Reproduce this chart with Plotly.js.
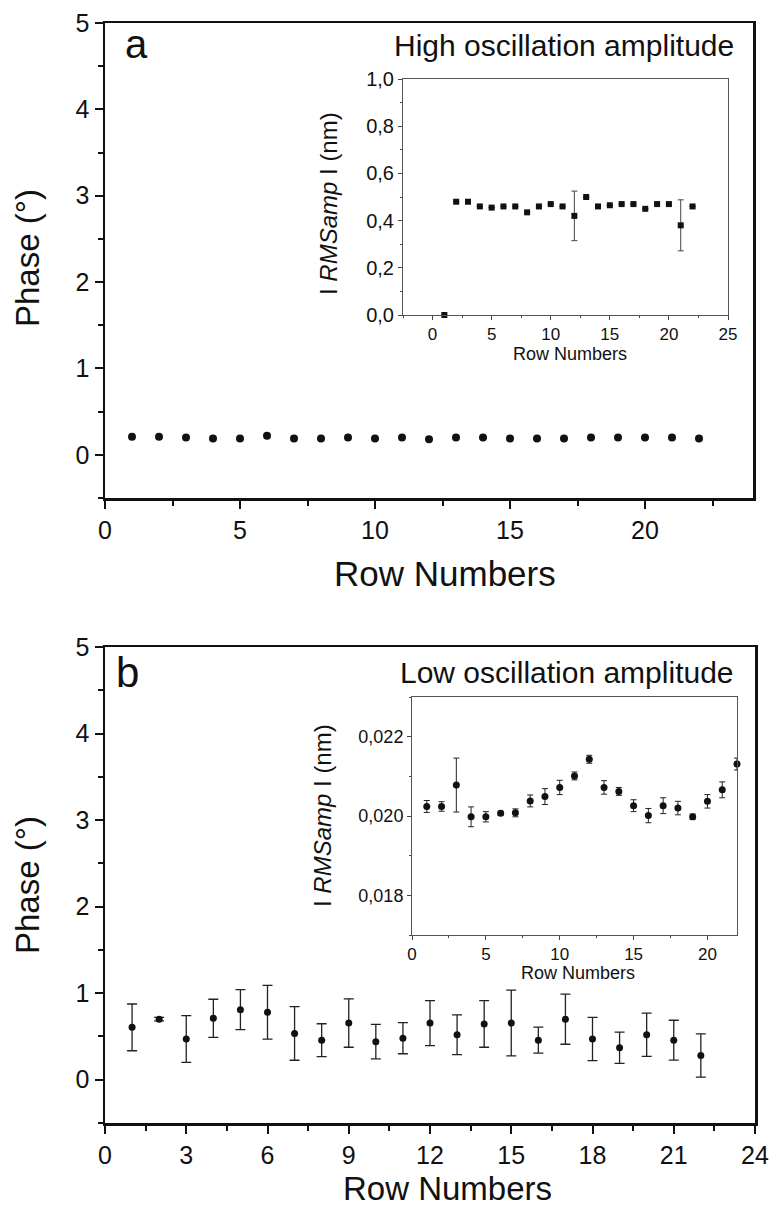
<!DOCTYPE html>
<html>
<head>
<meta charset="utf-8">
<script src="https://cdn.plot.ly/plotly-3.0.1.min.js"></script>
<style>
html,body{margin:0;padding:0;background:#fff;}
#chart{width:774px;height:1212px;}
</style>
</head>
<body>
<div id="chart"></div>
<script>
// ---------- data ----------
const rowsA = [1,2,3,4,5,6,7,8,9,10,11,12,13,14,15,16,17,18,19,20,21,22];
const phaseA = [0.21,0.21,0.20,0.19,0.19,0.22,0.19,0.19,0.20,0.19,0.20,0.18,0.20,0.20,0.19,0.19,0.19,0.20,0.20,0.20,0.20,0.19];
const phaseAErr = [0.02,0.02,0.02,0.02,0.02,0.02,0.02,0.02,0.02,0.02,0.02,0.02,0.02,0.02,0.02,0.02,0.02,0.02,0.02,0.02,0.02,0.02];

const rmsA = [0.00,0.48,0.48,0.46,0.455,0.46,0.46,0.435,0.46,0.47,0.46,0.42,0.50,0.46,0.465,0.47,0.47,0.45,0.47,0.47,0.38,0.46];
const rmsAErr = [0,0,0,0,0,0,0,0,0,0,0,0.105,0,0,0,0,0,0,0,0,0.108,0];

const rowsB = [1,2,3,4,5,6,7,8,9,10,11,12,13,14,15,16,17,18,19,20,21,22];
const phaseB = [0.605,0.70,0.47,0.71,0.81,0.78,0.535,0.457,0.655,0.44,0.48,0.655,0.52,0.645,0.655,0.457,0.70,0.47,0.37,0.52,0.457,0.28];
const phaseBErr = [0.27,0.02,0.27,0.22,0.23,0.31,0.31,0.19,0.28,0.20,0.18,0.26,0.23,0.27,0.38,0.15,0.29,0.25,0.18,0.25,0.23,0.25];

const rmsB = [0.02024,0.02024,0.02078,0.01998,0.01998,0.02007,0.02008,0.02038,0.02049,0.02072,0.02101,0.02143,0.02072,0.02062,0.02026,0.02001,0.02026,0.02020,0.01998,0.02037,0.02066,0.02131];
const rmsBErr = [0.00015,0.00012,0.00068,0.00025,0.00013,0.00005,0.00010,0.00015,0.00020,0.00018,0.00010,0.00010,0.00017,0.00010,0.00015,0.00018,0.00020,0.00017,0.00007,0.00017,0.00020,0.00015];

const labelA = 'a';
const labelB = 'b';
const titleA = 'High oscillation amplitude';
const titleB = 'Low oscillation amplitude';
const xTitle = 'Row Numbers';
const yTitle = 'Phase (°)';
const insetYTitle = 'I <i>RMSamp</i> I (nm)';

// ---------- layout helpers (pixel -> paper) ----------
const ML = 105, MR = 19, MT = 23, MB = 89, W = 774, H = 1212;
const PW = W - ML - MR, PH = H - MT - MB;
const X = px => (px - ML) / PW;
const Y = py => (H - MB - py) / PH;

const FONT = 'Liberation Sans, Arial, Helvetica, sans-serif';
const INK = '#111';

function mainAxis(extra) {
  return Object.assign({
    showline: true, mirror: true, linewidth: 2.5, linecolor: INK,
    ticks: 'outside', ticklen: 8, tickwidth: 2, tickcolor: INK,
    showgrid: false, zeroline: false,
    tickfont: {family: FONT, size: 25, color: INK},
    fixedrange: true
  }, extra);
}
function insetAxis(extra) {
  return Object.assign({
    showline: true, mirror: true, linewidth: 1, linecolor: '#555',
    ticks: 'outside', ticklen: 4, tickwidth: 1, tickcolor: '#444',
    showgrid: false, zeroline: false,
    tickfont: {family: FONT, size: 17, color: INK},
    fixedrange: true
  }, extra);
}

const traces = [
  {
    x: rowsA, y: phaseA, xaxis: 'x', yaxis: 'y', type: 'scatter', mode: 'markers',
    marker: {symbol: 'circle', size: 8, color: INK},
    error_y: {type: 'data', array: phaseAErr, visible: true, color: INK, thickness: 1.5, width: 3},
    showlegend: false, cliponaxis: false
  },
  {
    x: rowsA, y: rmsA, xaxis: 'x2', yaxis: 'y2', type: 'scatter', mode: 'markers',
    marker: {symbol: 'square', size: 6, color: INK},
    error_y: {type: 'data', array: rmsAErr, visible: true, color: '#444', thickness: 1, width: 3},
    showlegend: false, cliponaxis: false
  },
  {
    x: rowsB, y: phaseB, xaxis: 'x3', yaxis: 'y3', type: 'scatter', mode: 'markers',
    marker: {symbol: 'circle', size: 7, color: INK},
    error_y: {type: 'data', array: phaseBErr, visible: true, color: '#222', thickness: 1.3, width: 5},
    showlegend: false, cliponaxis: false
  },
  {
    x: rowsB, y: rmsB, xaxis: 'x4', yaxis: 'y4', type: 'scatter', mode: 'markers',
    marker: {symbol: 'circle', size: 7, color: INK},
    error_y: {type: 'data', array: rmsBErr, visible: true, color: '#222', thickness: 1, width: 3},
    showlegend: false, cliponaxis: false
  }
];

const layout = {
  width: W, height: H,
  margin: {l: ML, r: MR, t: MT, b: MB, pad: 0},
  paper_bgcolor: '#fff', plot_bgcolor: 'rgba(0,0,0,0)',
  separators: ', ',
  showlegend: false,
  font: {family: FONT, color: INK},
  // panel a
  xaxis: mainAxis({domain: [X(105), X(753)], anchor: 'y', range: [0, 24], tick0: 0, dtick: 5,
    minor: {ticks: 'outside', ticklen: 5, tickwidth: 2, tickcolor: INK, dtick: 2.5}}),
  yaxis: mainAxis({domain: [Y(498), Y(23)], anchor: 'x', range: [-0.5, 5], tick0: 0, dtick: 1,
    minor: {ticks: 'outside', ticklen: 5, tickwidth: 2, tickcolor: INK, dtick: 0.5}}),
  // inset a
  xaxis2: insetAxis({domain: [X(403), X(728)], anchor: 'y2', range: [-2.5, 25], tick0: 0, dtick: 5,
    minor: {ticks: 'outside', ticklen: 2, tickwidth: 1, tickcolor: '#444', dtick: 2.5}}),
  yaxis2: insetAxis({domain: [Y(315), Y(79)], anchor: 'x2', range: [0, 1.0], tick0: 0, dtick: 0.2,
    tickformat: '.1f', tickfont: {family: FONT, size: 20, color: INK},
    minor: {ticks: 'outside', ticklen: 2, tickwidth: 1, tickcolor: '#444', dtick: 0.1}}),
  // panel b
  xaxis3: mainAxis({domain: [X(105), X(755)], anchor: 'y3', range: [0, 24], tick0: 0, dtick: 3,
    minor: {ticks: 'outside', ticklen: 5, tickwidth: 2, tickcolor: INK, dtick: 1.5}}),
  yaxis3: mainAxis({domain: [Y(1123), Y(647)], anchor: 'x3', range: [-0.5, 5], tick0: 0, dtick: 1,
    minor: {ticks: 'outside', ticklen: 5, tickwidth: 2, tickcolor: INK, dtick: 0.5}}),
  // inset b
  xaxis4: insetAxis({domain: [X(412), X(737)], anchor: 'y4', range: [0, 22], tick0: 0, dtick: 5,
    minor: {ticks: 'outside', ticklen: 2, tickwidth: 1, tickcolor: '#444', dtick: 2.5}}),
  yaxis4: insetAxis({domain: [Y(935), Y(697)], anchor: 'x4', range: [0.017, 0.023], tick0: 0.018, dtick: 0.002,
    tickformat: '.3f', tickfont: {family: FONT, size: 18, color: INK},
    minor: {ticks: 'outside', ticklen: 2, tickwidth: 1, tickcolor: '#444', dtick: 0.001}}),
  annotations: [
    {text: labelA, x: X(136), y: Y(44), xref: 'paper', yref: 'paper', showarrow: false,
      xanchor: 'center', yanchor: 'middle', font: {family: FONT, size: 40, color: INK}},
    {text: labelB, x: X(127), y: Y(672), xref: 'paper', yref: 'paper', showarrow: false,
      xanchor: 'center', yanchor: 'middle', font: {family: FONT, size: 42, color: INK}},
    {text: titleA, x: X(736), y: Y(45), xref: 'paper', yref: 'paper', showarrow: false,
      xanchor: 'right', yanchor: 'middle', font: {family: FONT, size: 30, color: INK}},
    {text: titleB, x: X(736), y: Y(673), xref: 'paper', yref: 'paper', showarrow: false,
      xanchor: 'right', yanchor: 'middle', font: {family: FONT, size: 30, color: INK}},
    // main axis titles
    {text: yTitle, x: X(27), y: Y(258), xref: 'paper', yref: 'paper', showarrow: false, textangle: -90,
      xanchor: 'center', yanchor: 'middle', font: {family: FONT, size: 33, color: INK}},
    {text: xTitle, x: X(445), y: Y(573), xref: 'paper', yref: 'paper', showarrow: false,
      xanchor: 'center', yanchor: 'middle', font: {family: FONT, size: 35, color: INK}},
    {text: yTitle, x: X(27), y: Y(885), xref: 'paper', yref: 'paper', showarrow: false, textangle: -90,
      xanchor: 'center', yanchor: 'middle', font: {family: FONT, size: 33, color: INK}},
    {text: xTitle, x: X(447), y: Y(1188), xref: 'paper', yref: 'paper', showarrow: false,
      xanchor: 'center', yanchor: 'middle', font: {family: FONT, size: 33, color: INK}},
    // inset titles
    {text: insetYTitle, x: X(328), y: Y(204), xref: 'paper', yref: 'paper', showarrow: false, textangle: -90,
      xanchor: 'center', yanchor: 'middle', font: {family: FONT, size: 24, color: INK}},
    {text: xTitle, x: X(570), y: Y(354), xref: 'paper', yref: 'paper', showarrow: false,
      xanchor: 'center', yanchor: 'middle', font: {family: FONT, size: 18, color: INK}},
    {text: insetYTitle, x: X(322), y: Y(816), xref: 'paper', yref: 'paper', showarrow: false, textangle: -90,
      xanchor: 'center', yanchor: 'middle', font: {family: FONT, size: 24, color: INK}},
    {text: xTitle, x: X(578), y: Y(973), xref: 'paper', yref: 'paper', showarrow: false,
      xanchor: 'center', yanchor: 'middle', font: {family: FONT, size: 18, color: INK}}
  ]
};

Plotly.newPlot('chart', traces, layout, {staticPlot: true, displayModeBar: false});
</script>
</body>
</html>
